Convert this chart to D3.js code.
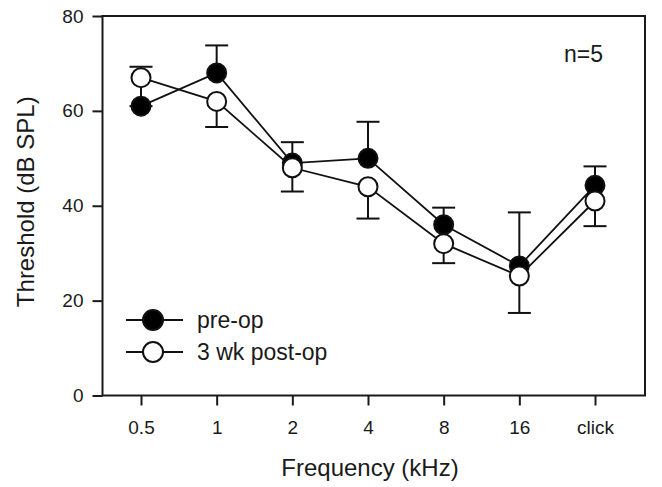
<!DOCTYPE html>
<html>
<head>
<meta charset="utf-8">
<script src="https://cdn.jsdelivr.net/npm/d3@7"></script>
<style>
  body { margin: 0; background: #fff; }
  text { font-family: "Liberation Sans", Arial, sans-serif; fill: #1a1a1a; }
</style>
</head>
<body>
<svg id="chart" width="662" height="487"></svg>
<script>
const freqs = ["0.5", "1", "2", "4", "8", "16", "click"];
const preOp = [61, 68, 49, 50, 36, 27.3, 44.3];
const preOpSE = [8.3, 5.8, 4.4, 7.7, 3.6, 11.3, 4.0];
const postOp = [67, 62, 48, 44, 32, 25.2, 41];
const postOpSE = [6, 5.4, 5, 6.7, 4.1, 7.8, 5.3];
const yTicks = [0, 20, 40, 60, 80];

const svg = d3.select("#chart");
const W = 662, H = 487, margin = {top: 16, right: 17, bottom: 91.5, left: 102.5};
const innerW = W - margin.left - margin.right;
const innerH = H - margin.top - margin.bottom;
const g = svg.append("g").attr("transform", `translate(${margin.left},${margin.top})`);

const x = d3.scalePoint().domain(freqs).range([38.5, 492.5]);
const y = d3.scaleLinear().domain([0, 80]).range([innerH, 0]);

// axes
const yAxis = g.append("g")
    .call(d3.axisLeft(y).tickValues(yTicks).tickSize(10).tickPadding(9).tickSizeOuter(0));
const xAxis = g.append("g").attr("transform", `translate(0,${innerH})`)
    .call(d3.axisBottom(x).tickSize(10).tickPadding(15).tickSizeOuter(0));
[yAxis, xAxis].forEach(a => {
    a.select(".domain").remove();
    a.selectAll(".tick line").attr("stroke", "#1a1a1a").attr("stroke-width", 2);
    a.selectAll(".tick text").attr("font-size", 19).attr("fill", "#1a1a1a")
        .attr("font-family", "Liberation Sans, Arial, sans-serif");
});

g.append("rect")
    .attr("x", 0).attr("y", 0).attr("width", innerW).attr("height", innerH)
    .attr("fill", "none").attr("stroke", "#1a1a1a").attr("stroke-width", 2);

// axis titles
svg.append("text")
    .attr("x", margin.left + 0.5 * (x("0.5") + x("click")) + 2)
    .attr("y", 476).attr("text-anchor", "middle").attr("font-size", 24)
    .text("Frequency (kHz)");
svg.append("text")
    .attr("transform", `translate(34,${margin.top + y(40) - 4}) rotate(-90)`)
    .attr("text-anchor", "middle").attr("font-size", 24)
    .text("Threshold (dB SPL)");

svg.append("text").attr("x", 603).attr("y", 62).attr("text-anchor", "end")
    .attr("font-size", 23).text("n=5");

const series = [
    {name: "pre-op", vals: preOp, se: preOpSE, dir: 1, fill: "#000"},
    {name: "3 wk post-op", vals: postOp, se: postOpSE, dir: -1, fill: "#fff"}
];

const line = d3.line().x((d, i) => x(freqs[i])).y(d => y(d));
const capW = 11.5;

// lines + error bars first, then markers
series.forEach(s => {
    g.append("path").datum(s.vals).attr("d", line)
        .attr("fill", "none").attr("stroke", "#111").attr("stroke-width", 1.8);
    const eb = g.append("g").selectAll("g").data(s.vals).join("g");
    eb.append("line")
        .attr("x1", (d, i) => x(freqs[i])).attr("x2", (d, i) => x(freqs[i]))
        .attr("y1", d => y(d)).attr("y2", (d, i) => y(d + s.dir * s.se[i]))
        .attr("stroke", "#111").attr("stroke-width", 2);
    eb.append("line")
        .attr("x1", (d, i) => x(freqs[i]) - capW).attr("x2", (d, i) => x(freqs[i]) + capW)
        .attr("y1", (d, i) => y(d + s.dir * s.se[i])).attr("y2", (d, i) => y(d + s.dir * s.se[i]))
        .attr("stroke", "#111").attr("stroke-width", 2);
});

series.forEach(s => {
    g.append("g").selectAll("circle").data(s.vals).join("circle")
        .attr("cx", (d, i) => x(freqs[i])).attr("cy", d => y(d)).attr("r", 9.5)
        .attr("fill", s.fill).attr("stroke", "#111").attr("stroke-width", 2);
});

// legend
const legend = svg.append("g");
series.forEach((s, i) => {
    const ly = 320 + i * 32;
    legend.append("line").attr("x1", 126).attr("x2", 183).attr("y1", ly).attr("y2", ly)
        .attr("stroke", "#111").attr("stroke-width", 1.8);
    legend.append("circle").attr("cx", 153).attr("cy", ly).attr("r", 10)
        .attr("fill", s.fill).attr("stroke", "#111").attr("stroke-width", 2);
    legend.append("text").attr("x", 197).attr("y", ly + 7.5).attr("font-size", 23).text(s.name);
});
</script>
</body>
</html>
